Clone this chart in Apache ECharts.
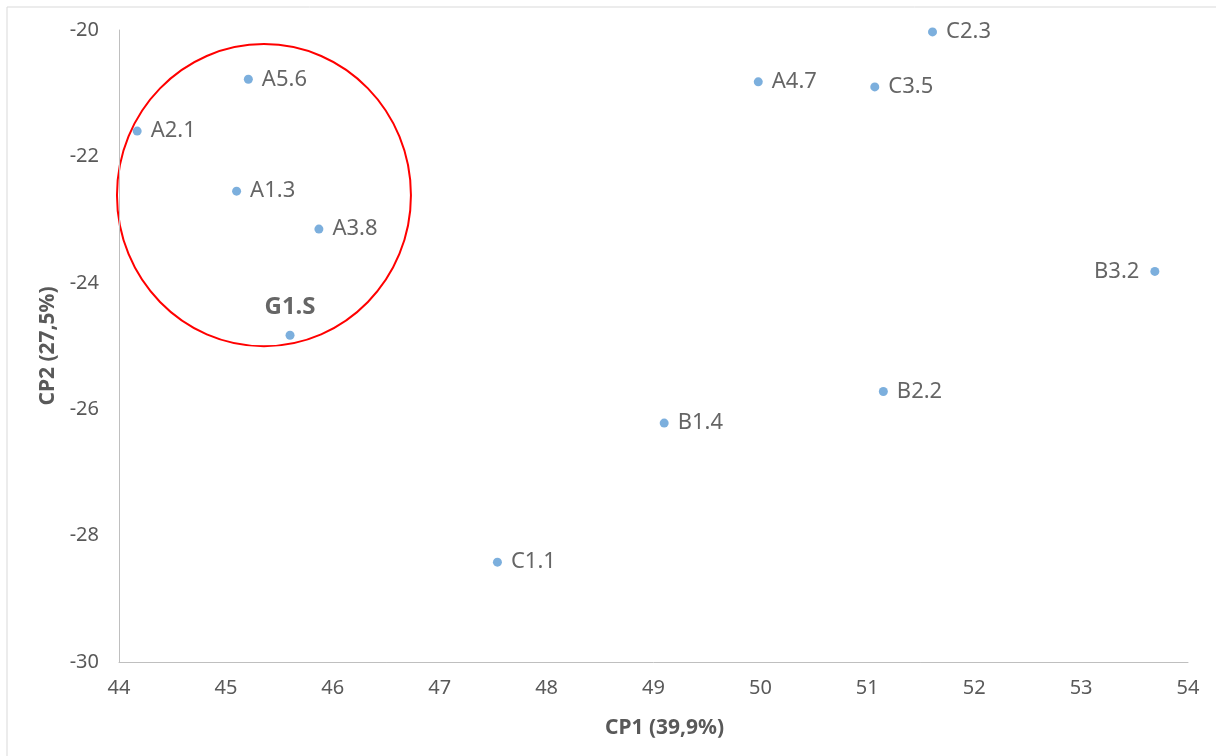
<!DOCTYPE html>
<html>
<head>
<meta charset="utf-8">
<script src="https://cdn.jsdelivr.net/npm/echarts@6/dist/echarts.min.js"></script>
<style>
  html, body { margin: 0; padding: 0; background: #fff; }
  #chart { width: 1216px; height: 756px; }
</style>
</head>
<body>
<div id="chart"></div>
<script>
// sample names and their scores on the two components
var names = ['A5.6', 'A2.1', 'A1.3', 'A3.8', 'G1.S', 'A4.7', 'C3.5', 'C2.3', 'B3.2', 'B2.2', 'B1.4', 'C1.1'];
var cp1 = [45.21, 44.17, 45.10, 45.87, 45.60, 49.98, 51.07, 51.61, 53.69, 51.15, 49.10, 47.54];
var cp2 = [-20.78, -21.60, -22.55, -23.15, -24.83, -20.82, -20.90, -20.03, -23.82, -25.72, -26.22, -28.42];

var xName = 'CP1 (39,9%)';
var yName = 'CP2 (27,5%)';

var chart = echarts.init(document.getElementById('chart'));

var points = [];
for (var i = 0; i < names.length; i++) {
    var p = { value: [cp1[i], cp2[i]], name: names[i] };
    if (names[i] === 'B3.2') {
        p.label = { position: 'left', distance: 11 };
    }
    if (names[i] === 'G1.S') {
        p.label = { position: 'top', distance: 12, fontWeight: 'bold', fontSize: 24, color: '#404040' };
    }
    points.push(p);
}

var option = {
    backgroundColor: '#ffffff',
    animation: false,
    grid: {
        left: 119,
        right: 28,
        top: 30,
        bottom: 94
    },
    xAxis: {
        type: 'value',
        min: 44,
        max: 54,
        interval: 1,
        name: xName,
        nameLocation: 'middle',
        nameGap: 56,
        nameTextStyle: {
            color: '#595959',
            fontSize: 21,
            fontWeight: 'bold',
            fontFamily: 'Noto Sans',
            padding: [0, 0, 0, 22]
        },
        axisLine: { lineStyle: { color: '#bfbfbf', width: 1 } },
        axisTick: { show: false },
        splitLine: { show: false },
        axisLabel: {
            color: '#595959',
            fontSize: 20,
            fontFamily: 'Noto Sans',
            margin: 16
        }
    },
    yAxis: {
        type: 'value',
        min: -30,
        max: -20,
        interval: 2,
        name: yName,
        nameLocation: 'middle',
        nameGap: 58,
        nameTextStyle: {
            color: '#595959',
            fontSize: 21,
            fontWeight: 'bold',
            fontFamily: 'Noto Sans'
        },
        axisLine: { show: true, lineStyle: { color: '#bfbfbf', width: 1 } },
        axisTick: { show: false },
        splitLine: { show: false },
        axisLabel: {
            color: '#595959',
            fontSize: 20,
            fontFamily: 'Noto Sans',
            margin: 20
        }
    },
    series: [
        {
            type: 'scatter',
            symbol: 'circle',
            symbolSize: 9,
            itemStyle: { color: '#5b9bd5' },
            label: {
                show: true,
                position: 'right',
                distance: 9,
                formatter: '{b}',
                color: '#3f3f3f',
                fontSize: 22,
                fontFamily: 'Noto Sans'
            },
            data: points
        }
    ]
};
chart.setOption(option);

// red ring around the A group, placed in data coordinates
var c = chart.convertToPixel({ gridIndex: 0 }, [45.356, -22.613]);
var e = chart.convertToPixel({ gridIndex: 0 }, [45.356 + 1.375, -22.613 - 2.39]);
chart.setOption({
    graphic: [
        {
            type: 'rect',
            shape: { x: 7, y: 7, width: 1300, height: 900 },
            style: { fill: 'none', stroke: '#d9d9d9', lineWidth: 1 },
            silent: true
        },
        {
            type: 'ellipse',
            shape: { cx: c[0], cy: c[1], rx: e[0] - c[0], ry: e[1] - c[1] },
            style: { fill: 'none', stroke: '#ff0000', lineWidth: 2 },
            silent: true
        }
    ]
});
</script>
</body>
</html>
